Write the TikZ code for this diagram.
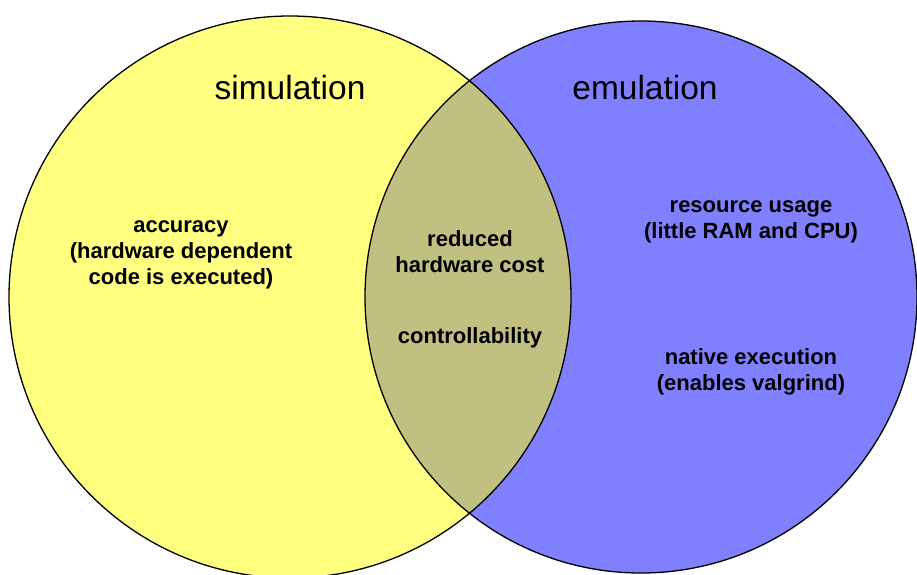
\documentclass[tikz,border=0pt]{standalone}
\usepackage{fontspec}
\setmainfont{Liberation Sans}
\definecolor{simyellow}{HTML}{FFFF80}
\definecolor{emublue}{HTML}{8080FF}
\definecolor{overlap}{HTML}{C0C080}
\begin{document}
\begin{tikzpicture}[x=1pt,y=-1pt,
  setline/.style={draw=black,line width=1.3pt},
  title/.style={font=\fontsize{33.5}{40}\selectfont,inner sep=0pt},
  point/.style={font=\fontsize{22}{26}\selectfont\bfseries,align=center,inner sep=0pt}]
  \useasboundingbox (0,0) rectangle (917,574);
  % the two sets
  \coordinate (simc) at (290,297);
  \coordinate (emuc) at (641,297);
  \fill[simyellow] (simc) circle[radius=281];
  \fill[emublue] (emuc) circle[radius=276];
  \begin{scope}
    \clip (simc) circle[radius=281];
    \fill[overlap] (emuc) circle[radius=276];
  \end{scope}
  \draw[setline] (simc) circle[radius=281];
  \draw[setline] (emuc) circle[radius=276];
  % set titles
  \node[title] (sim) at (290,88) {simulation};
  \node[title] (emu) at (645,88) {emulation};
  % properties
  \node[point] (acc) at (181,255) {accuracy\\(hardware dependent\\code is executed)};
  \node[point] (cost) at (470,252) {reduced\\hardware cost};
  \node[point] (ctrl) at (470,338) {controllability};
  \node[point] (res) at (751,222) {resource usage\\(little RAM and CPU)};
  \node[point] (nat) at (751,372) {native execution\\(enables valgrind)};
\end{tikzpicture}
\end{document}
